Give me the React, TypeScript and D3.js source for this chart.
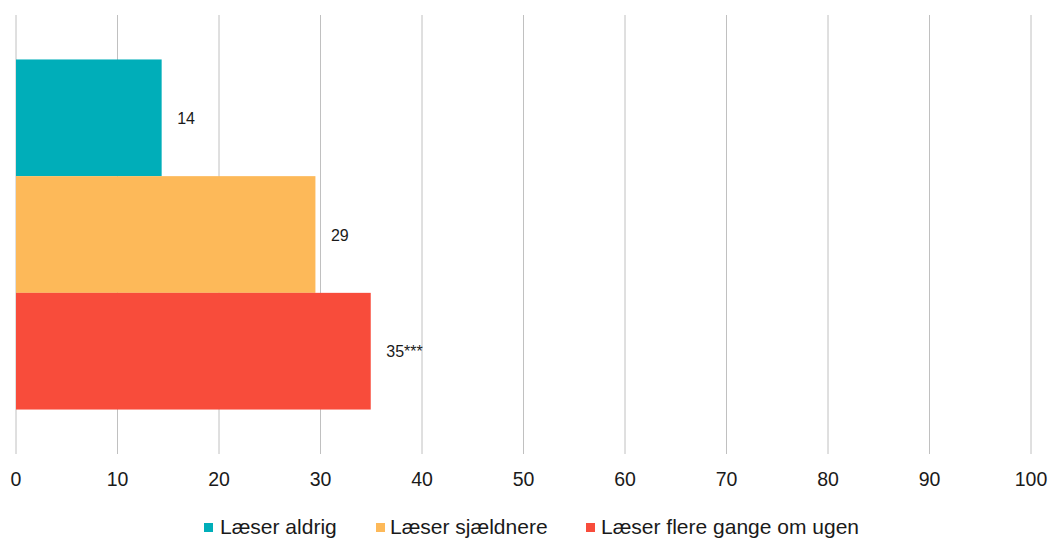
import React from "react";
import * as d3 from "d3";

const categories = ["Læser aldrig", "Læser sjældnere", "Læser flere gange om ugen"];
const values = [14.35, 29.5, 34.95];
const valueLabels = ["14", "29", "35***"];
const colors = ["#00AEB9", "#FDB959", "#F84C3B"];
const xTicks = [0, 10, 20, 30, 40, 50, 60, 70, 80, 90, 100];

const W = 1053;
const H = 538;
const plot = { left: 16, right: 1031, top: 15, bottom: 454 };

export default function App() {
  const x = d3.scaleLinear().domain([0, 100]).range([plot.left, plot.right]);
  const outer = d3
    .scaleBand<string>()
    .domain(["g"])
    .range([plot.top, plot.bottom])
    .paddingInner(0)
    .paddingOuter(0.127);
  const inner = d3
    .scaleBand<string>()
    .domain(categories)
    .range([0, outer.bandwidth()])
    .padding(0);
  const g0 = outer("g") ?? 0;
  const font = "'Liberation Sans', Arial, sans-serif";

  const legendItems = [
    { x: 204, tx: 220 },
    { x: 376, tx: 390 },
    { x: 586, tx: 601 },
  ];

  return (
    <svg
      width={W}
      height={H}
      style={{ position: "absolute", left: 0, top: 0, background: "#fff" }}
      fontFamily={font}
    >
      {xTicks.map((t) => (
        <g key={t}>
          <line
            x1={x(t)}
            x2={x(t)}
            y1={plot.top}
            y2={plot.bottom}
            stroke="#c0c0c0"
            strokeWidth={1}
          />
          <text
            x={x(t)}
            y={486}
            textAnchor="middle"
            fontSize={19.5}
            fill="#1a1a1a"
          >
            {t}
          </text>
        </g>
      ))}
      {categories.map((c, i) => {
        const y0 = g0 + (inner(c) ?? 0);
        const bh = inner.bandwidth();
        return (
          <g key={c}>
            <rect
              x={x(0)}
              y={y0}
              width={x(values[i]) - x(0)}
              height={bh}
              fill={colors[i]}
            />
            <text
              x={x(values[i]) + 15.5}
              y={y0 + bh / 2 + 6}
              fontSize={16}
              fill="#1a1a1a"
            >
              {valueLabels[i]}
            </text>
          </g>
        );
      })}
      {categories.map((c, i) => (
        <g key={"lg" + c}>
          <rect x={legendItems[i].x} y={523} width={9} height={9} fill={colors[i]} />
          <text x={legendItems[i].tx} y={533.5} fontSize={21} fill="#1a1a1a">
            {c}
          </text>
        </g>
      ))}
    </svg>
  );
}
